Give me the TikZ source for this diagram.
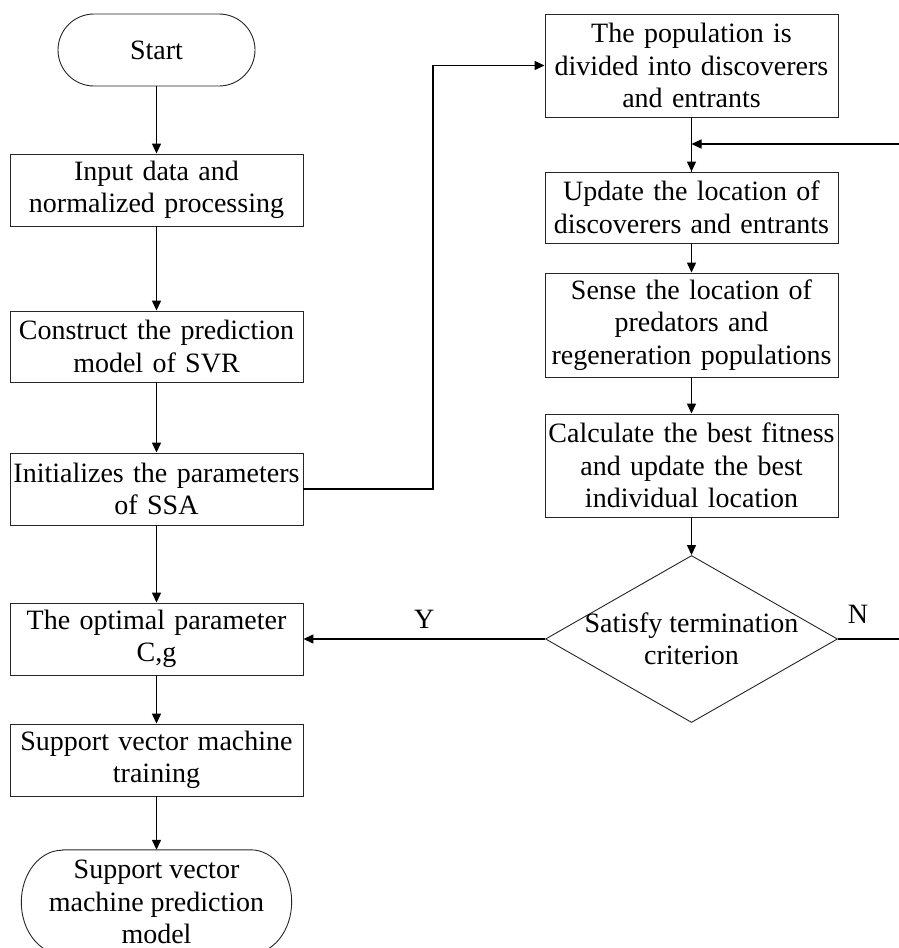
\documentclass[tikz,border=0pt]{standalone}
\usepackage{fontspec}
\setmainfont{Liberation Serif}
\usetikzlibrary{shapes.geometric,arrows.meta}
\begin{document}
\begin{tikzpicture}[x=1pt,y=-1pt,
  font=\fontsize{28}{32.5}\selectfont,
  box/.style={draw=black!85, line width=0.9pt, rectangle, inner sep=0pt, minimum width=293pt, text width=290pt, align=center},
  term/.style={draw=black!85, line width=0.9pt, rectangle, rounded corners=36pt, inner sep=0pt, align=center},
  arr/.style={line width=1.3pt, -{Triangle[length=10pt,width=9pt]}},
  ln/.style={line width=1.3pt}]
\useasboundingbox (0,0) rectangle (899,948);
\clip (0,0) rectangle (899,948);
% left column
\node[term, minimum width=197pt, minimum height=72pt] (start) at (156.5,50) {Start};
\node[box, minimum height=72pt] (input) at (156.5,190) {Input data and\\normalized processing};
\node[box, minimum height=71pt] (cons) at (156.5,346.5) {Construct the prediction\\model of SVR};
\node[box, minimum height=72pt] (init) at (156.5,489) {Initializes the parameters\\of SSA};
\node[box, minimum height=72pt] (opt) at (156.5,639) {The optimal parameter\\C,g};
\node[box, minimum height=72pt] (train) at (156.5,760) {Support vector machine\\training};
\node[inner sep=0pt, minimum width=270pt, minimum height=104pt, align=center] (end) at (156.5,902) {Support vector\\machine prediction\\model};
\draw[draw=black!85, line width=0.9pt] ([xshift=41pt]end.north west) -- ([xshift=-41pt]end.north east)
  arc[start angle=90, end angle=-90, x radius=41pt, y radius=52pt]
  -- ([xshift=41pt]end.south west)
  arc[start angle=270, end angle=90, x radius=41pt, y radius=52pt] -- cycle;
% right column
\node[box, minimum height=103pt] (pop) at (691.5,65.5) {The population is\\divided into discoverers\\and entrants};
\node[box, minimum height=71pt] (upd) at (691.5,207.5) {Update the location of\\discoverers and entrants};
\node[box, minimum height=104pt] (sense) at (691.5,325) {Sense the location of\\predators and\\regeneration populations};
\node[box, minimum height=103pt] (calc) at (691.5,465.5) {Calculate the best fitness\\and update the best\\individual location};
\node[diamond, draw=black!85, line width=0.9pt, inner sep=0pt, minimum width=292pt, minimum height=167pt] (dec) at (691.5,639) {};
\node[align=center, inner sep=0pt] (dectext) at (dec.center) {Satisfy termination\\criterion};
% coordinates
\coordinate (nin) at (899,144);
\coordinate (nout) at (899,639);
\coordinate (loopin) at (pop.south |- nin);
\coordinate (turn) at (433,489);
% connectors
\draw[arr] (start) -- (input);
\draw[arr] (input) -- (cons);
\draw[arr] (cons) -- (init);
\draw[arr] (init) -- (opt);
\draw[arr] (opt) -- (train);
\draw[arr] (train) -- (end);
\draw[arr] (init.east) -- (turn) |- (pop.west);
\draw[ln] (pop.south) -- (upd.north);
\draw[arr] (loopin) -- (upd.north);
\draw[arr] (nin) -- (loopin);
\draw[arr] (upd) -- (sense);
\draw[arr] (sense) -- (calc);
\draw[arr] (calc) -- (dec.north);
\draw[arr] (dec.west) -- node[above=10pt, inner sep=0pt] (ylab) {Y} (opt.east);
\draw[ln] (dec.east) -- (nout);
\node[inner sep=0pt] (nlab) at (858,614) {N};
\end{tikzpicture}
\end{document}
